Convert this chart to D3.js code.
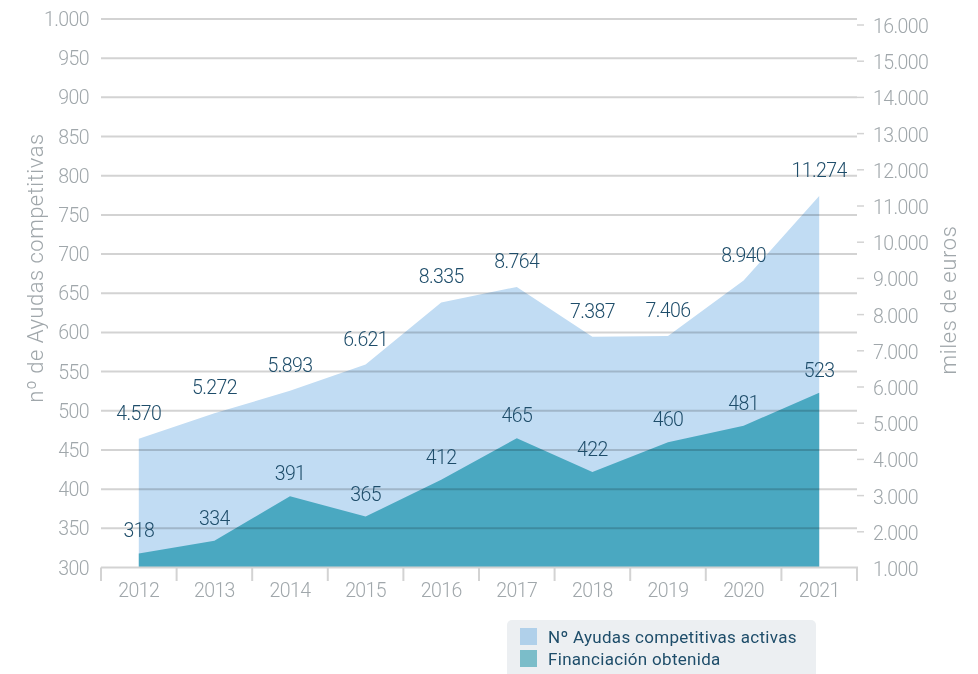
<!DOCTYPE html>
<html>
<head>
<meta charset="utf-8">
<script src="https://cdn.jsdelivr.net/npm/d3@7/dist/d3.min.js"></script>
<style>
  body { margin: 0; background: #fff; }
  text { font-family: Roboto, "Noto Sans", sans-serif; font-weight: 300; }
</style>
</head>
<body>
<script>
// data
const years = ["2012", "2013", "2014", "2015", "2016", "2017", "2018", "2019", "2020", "2021"];
const ayudas = [318, 334, 391, 365, 412, 465, 422, 460, 481, 523];              // left axis (teal)
const financiacion = [4570, 5272, 5893, 6621, 8335, 8764, 7387, 7406, 8940, 11274]; // right axis (light blue)
const legendLabels = ["Nº Ayudas competitivas activas", "Financiación obtenida"];
const leftTitle = "nº de Ayudas competitivas";
const rightTitle = "miles de euros";

const width = 978, height = 674;
const greyText = "#a0a7ab", darkText = "#1e4d6a", gridColor = "#d3d3d3";

const locale = d3.formatLocale({ decimal: ",", thousands: ".", grouping: [3], currency: ["", ""] });
const fmt = locale.format(",d");

const svg = d3.select("body").append("svg")
    .attr("width", width)
    .attr("height", height);

const x = d3.scaleBand().domain(years).range([101, 857]);
const yL = d3.scaleLinear().domain([300, 1000]).range([567.5, 19]);
const yR = d3.scaleLinear().domain([1000, 16000]).range([568, 25]);

const cx = d => x(d) + x.bandwidth() / 2;

// areas
const areaR = d3.area()
    .x((d, i) => cx(years[i]))
    .y0(yL(300))
    .y1(d => yR(d));
const areaL = d3.area()
    .x((d, i) => cx(years[i]))
    .y0(yL(300))
    .y1(d => yL(d));

svg.append("path").datum(financiacion)
    .attr("d", areaR)
    .attr("fill", "#c1dcf3");
svg.append("path").datum(ayudas)
    .attr("d", areaL)
    .attr("fill", "#4aa8c1");

// gridlines (multiplied over the areas)
svg.append("g")
    .selectAll("line")
    .data(yL.ticks(14).filter(d => d > 300))
    .enter().append("line")
    .attr("x1", 101).attr("x2", 857)
    .attr("y1", d => yL(d)).attr("y2", d => yL(d))
    .attr("stroke", gridColor)
    .attr("stroke-width", 2)
    .style("mix-blend-mode", "multiply");

// x axis baseline + ticks
svg.append("line")
    .attr("x1", 101).attr("x2", 858)
    .attr("y1", yL(300)).attr("y2", yL(300))
    .attr("stroke", gridColor).attr("stroke-width", 2);

const bounds = years.map(d => x(d)).concat([x.range()[1]]);
svg.append("g").selectAll("line")
    .data(bounds)
    .enter().append("line")
    .attr("x1", d => d).attr("x2", d => d)
    .attr("y1", yL(300)).attr("y2", 581)
    .attr("stroke", gridColor).attr("stroke-width", 2);

svg.append("g").selectAll("text")
    .data(years)
    .enter().append("text")
    .attr("x", d => cx(d))
    .attr("y", 597)
    .attr("text-anchor", "middle")
    .attr("fill", greyText)
    .style("font-size", "19.5px")
    .style("letter-spacing", "-0.6px")
    .text(d => d);

// left axis labels
svg.append("g").selectAll("text")
    .data(yL.ticks(14))
    .enter().append("text")
    .attr("x", 89)
    .attr("y", d => yL(d) + 7)
    .attr("text-anchor", "end")
    .attr("fill", greyText)
    .style("font-size", "19.5px")
    .style("letter-spacing", "-0.6px")
    .text(d => fmt(d));

// right axis ticks + labels
const rTicks = yR.ticks(15);
svg.append("g").selectAll("line")
    .data(rTicks.filter(d => d > 1000))
    .enter().append("line")
    .attr("x1", 857).attr("x2", 864)
    .attr("y1", d => yR(d)).attr("y2", d => yR(d))
    .attr("stroke", gridColor).attr("stroke-width", 1.5);

svg.append("g").selectAll("text")
    .data(rTicks)
    .enter().append("text")
    .attr("x", 873)
    .attr("y", d => yR(d) + 8)
    .attr("fill", greyText)
    .style("font-size", "19.5px")
    .style("letter-spacing", "-0.6px")
    .text(d => fmt(d));

// axis titles
svg.append("text")
    .attr("transform", "translate(43,268) rotate(-90)")
    .attr("text-anchor", "middle")
    .attr("fill", greyText)
    .style("font-size", "22px")
    .style("letter-spacing", "0.5px")
    .text(leftTitle);

svg.append("text")
    .attr("transform", "translate(956,300) rotate(-90)")
    .attr("text-anchor", "middle")
    .attr("fill", greyText)
    .style("font-size", "22px")
    .style("letter-spacing", "0.6px")
    .text(rightTitle);

// value labels
svg.append("g").selectAll("text")
    .data(financiacion)
    .enter().append("text")
    .attr("x", (d, i) => cx(years[i]))
    .attr("y", d => yR(d) - 19)
    .attr("text-anchor", "middle")
    .attr("fill", darkText)
    .style("font-size", "19.5px")
    .style("letter-spacing", "-0.6px")
    .text(d => fmt(d));

svg.append("g").selectAll("text")
    .data(ayudas)
    .enter().append("text")
    .attr("x", (d, i) => cx(years[i]))
    .attr("y", d => yL(d) - 16)
    .attr("text-anchor", "middle")
    .attr("fill", darkText)
    .style("font-size", "19.5px")
    .style("letter-spacing", "-0.6px")
    .text(d => fmt(d));

// legend
const legend = svg.append("g");
legend.append("rect")
    .attr("x", 507).attr("y", 620)
    .attr("width", 309).attr("height", 62)
    .attr("rx", 5)
    .attr("fill", "#eceff2");

const swatch = ["#b0d0ea", "#7bbdc9"];
legendLabels.forEach(function (label, i) {
    legend.append("rect")
        .attr("x", 520).attr("y", 628 + i * 22)
        .attr("width", 17).attr("height", 17)
        .attr("fill", swatch[i]);
    legend.append("text")
        .attr("x", 548).attr("y", 643 + i * 22)
        .attr("fill", darkText)
        .style("font-size", "17px")
        .style("font-weight", 400)
        .style("letter-spacing", "0.3px")
        .text(label);
});
</script>
</body>
</html>
